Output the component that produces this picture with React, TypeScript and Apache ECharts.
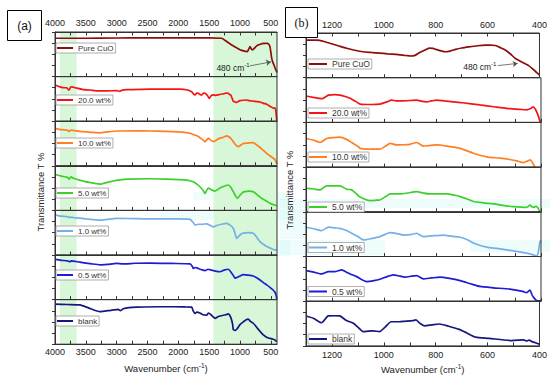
import React, { useEffect, useRef } from "react";
import * as echarts from "echarts";

const seriesNames = ["Pure CuO", "20.0 wt%", "10.0 wt%", "5.0 wt%", "1.0 wt%", "0.5 wt%", "blank"];
const seriesColors = ["#8e0c0c", "#f51414", "#ff7f22", "#3dcf2a", "#74b0e8", "#1c1cd2", "#16167e"];

// Panel (a): wavenumber 4000-400, each row normalised 0..100 (bottom..top of its strip)
const aPureCuO = [[4000,86],[3500,86],[3000,86.5],[2500,87],[2000,87],[1500,87],[1300,86],[1270,84],[1200,77],[1135,71],[1060,65],[1000,60],[930,57],[882,56],[860,61],[838,67],[815,62],[795,60],[770,63],[730,69],[680,72],[622,74.7],[557,74.7],[530,72],[514,67],[500,55],[487,42],[470,33],[449,26],[425,17],[405,11],[400,9]];
const a20 = [[4000,81],[3919,77],[3850,75],[3810,75],[3785,71],[3768,70],[3750,76],[3729,77],[3648,74],[3540,71],[3432,70],[3300,68],[3162,68],[3000,68.5],[2950,67],[2920,69],[2837,70.6],[2600,71.5],[2297,72],[2100,72],[1973,72],[1850,70],[1783,66],[1760,62],[1730,59],[1700,63],[1676,62.5],[1650,60],[1621,59],[1590,63],[1568,62.5],[1530,58],[1498,51],[1470,57],[1433,59],[1400,58],[1352,59],[1300,61],[1271,61],[1230,63],[1190,62.5],[1170,60],[1151,59],[1130,52],[1109,45],[1080,43],[1054,42],[1030,44],[1000,46],[950,47],[892,47.5],[850,46],[784,45],[730,44],[676,43],[620,40],[567,38],[520,34],[480,31],[460,29],[440,30],[425,28],[415,18],[405,3],[400,0]];
const a10 = [[4000,84],[3900,81],[3800,80],[3770,77],[3757,79],[3740,80],[3600,77],[3400,75],[3270,74],[3150,76],[3000,78],[2700,78.5],[2460,78],[2200,77],[2000,76],[1900,75],[1811,73],[1760,70],[1730,69],[1680,66],[1640,62],[1600,58],[1568,54],[1540,58],[1514,62],[1480,58],[1433,54],[1380,58],[1325,62],[1270,64],[1216,67],[1180,65],[1140,60],[1109,54],[1070,47],[1028,43],[990,46],[947,50],[870,51],[784,52],[740,48],[703,44],[640,37],[567,28],[510,22],[460,17],[430,13],[405,6],[400,4]];
const a5 = [[4000,81],[3900,77],[3800,74],[3770,70],[3757,72],[3740,75],[3700,72],[3600,68],[3450,63],[3270,59],[3150,63],[3050,66],[2973,68],[2800,70],[2460,71],[2200,70],[2000,69],[1865,68],[1800,66],[1757,64],[1700,59],[1649,53],[1600,45],[1568,38],[1540,45],[1514,50],[1460,46],[1406,43],[1360,47],[1325,50],[1260,54],[1190,57],[1150,52],[1109,42],[1070,32],[1044,27],[1000,34],[950,41],[920,42],[850,43],[784,42],[720,35],[660,28],[622,25],[560,20],[514,16],[460,13],[430,12],[405,10],[400,9]];
const a1 = [[4000,90],[3900,87],[3800,86],[3770,84],[3757,85],[3700,84],[3500,81],[3270,78],[3150,80],[3000,82],[2700,81.5],[2400,81],[2000,81],[1811,80],[1760,73],[1730,67],[1680,69],[1620,69],[1541,70],[1480,66],[1433,63],[1380,66],[1300,69],[1216,71],[1160,67],[1109,60],[1080,48],[1054,37],[1020,42],[980,47],[947,49],[870,50],[784,49],[730,40],[676,30],[620,24],[567,19],[500,15],[450,12],[405,11],[400,10]];
const a05 = [[4000,90],[3900,88],[3800,87],[3760,85],[3740,87],[3600,84],[3400,80],[3270,78],[3150,79],[3000,81],[2900,80],[2700,81.5],[2460,82],[2100,81],[1811,80],[1770,74],[1757,70],[1720,72],[1680,70],[1620,67],[1568,65],[1520,68],[1460,66],[1400,64],[1325,62.5],[1260,66],[1190,68],[1140,60],[1100,52],[1081,48],[1040,50],[1000,53],[947,56],[880,55],[784,53],[730,49],[676,44],[620,38],[567,33],[510,27],[460,21],[430,16],[415,10],[405,3],[400,1]];
const aBlank = [[4000,90],[3800,89],[3595,88],[3450,81],[3270,73],[3100,76],[2973,78],[2940,75],[2900,79],[2800,82],[2676,83],[2300,84],[2081,84],[1900,83.5],[1784,83],[1760,75],[1730,69],[1700,72],[1650,70],[1600,66],[1541,65],[1510,70],[1470,66],[1440,62],[1405,58],[1350,62],[1271,65],[1230,66],[1190,68],[1150,60],[1120,45],[1109,33],[1080,31],[1050,34],[1000,44],[947,50],[900,55],[866,56],[830,51],[784,47],[720,36],[670,28],[622,21],[560,15],[460,11],[430,9],[405,6],[400,5]];

// Panel (b): wavenumber 1300-400
const bPureCuO = [[1300,84],[1259,84],[1230,81],[1208,77],[1176,71.5],[1144,66],[1112,61.5],[1080,58],[1049,56.5],[1017,55],[985,53.5],[953,52],[921,50],[895,48.5],[880,50],[863,56],[845,61],[825,66],[810,65.5],[800,63.5],[780,60],[761,58],[742,60],[723,63.5],[700,66.5],[672,69],[640,71.5],[608,73],[590,73],[570,72],[550,67],[532,62],[512,53],[493,43],[474,37],[455,31],[442,27],[429,21],[417,15],[404,8],[400,6]];
const b20 = [[1300,59],[1272,56],[1240,53],[1214,61],[1190,62],[1170,61],[1150,58],[1131,54],[1110,47],[1093,41],[1050,40],[1017,41],[990,46],[972,50],[955,48],[940,48],[900,49],[876,50],[855,47],[838,46],[820,48],[800,50],[770,48],[736,46],[700,44],[634,39],[580,35],[532,31.5],[480,29],[455,28],[440,31],[429,35],[422,30],[417,24],[410,14],[404,2],[400,0]];
const b10 = [[1300,64],[1270,60],[1246,55],[1221,64],[1195,66],[1170,67],[1145,62],[1125,55],[1100,46],[1093,42],[1050,40],[1017,40],[995,47],[978,53],[953,49.5],[925,50],[902,51],[876,55],[851,47],[830,48],[800,49.5],[761,47],[710,42],[659,31],[608,23],[557,20],[520,17],[493,14],[468,10],[450,14],[442,16],[435,12],[423,0]];
const b5 = [[1300,53],[1270,51],[1246,49],[1221,58],[1190,58],[1170,58],[1144,50.5],[1125,49],[1110,42],[1093,33],[1055,25],[1030,26],[1017,26.5],[995,34],[978,40],[940,40],[915,41.5],[876,45],[850,42],[825,40],[761,40],[730,37],[710,34],[680,28],[659,23],[620,20],[583,17.7],[540,14],[506,11.6],[455,10],[442,15],[435,11],[429,10],[420,12],[412,9],[404,0.5],[400,0]];
const b1 = [[1300,65.5],[1270,62],[1240,58],[1214,65.5],[1190,64],[1170,63],[1145,58],[1125,52],[1100,44],[1080,37],[1050,40],[1017,44.5],[978,53.5],[950,51],[927,48],[900,49],[876,52],[851,44.5],[820,46],[774,48],[740,45],[710,43],[680,37],[659,30],[630,24],[608,21],[570,18],[532,15],[490,11],[455,7.4],[429,3.6],[417,1],[410,10],[404,33],[400,36]];
const b05 = [[1300,68.5],[1270,65],[1240,61],[1214,66],[1190,66],[1163,70],[1145,65],[1131,61],[1106,55],[1068,44],[1040,46],[1017,49],[990,55],[966,59],[940,56],[921,54],[895,56],[876,57],[851,50],[820,52],[787,54],[750,51],[710,46],[670,39],[634,33],[583,30],[519,27],[470,22],[455,19],[442,25],[435,15],[429,9],[417,1.5],[400,1]];
const bBlank = [[1300,67],[1272,62],[1240,52],[1214,67],[1190,67.5],[1170,67],[1144,56.6],[1119,51],[1100,42],[1080,32],[1060,33],[1042,33.5],[1017,32],[995,42],[972,54],[940,54],[921,55],[889,56.6],[876,58],[860,50],[844,45],[815,47],[787,49],[750,44],[710,37],[680,29],[646,19.5],[595,17],[506,12],[461,13.4],[449,11],[440,13],[429,9.6],[415,7],[404,4.5],[400,4]];

const panelAData = [aPureCuO, a20, a10, a5, a1, a05, aBlank];
const panelBData = [bPureCuO, b20, b10, b5, b1, b05, bBlank];

const aTickValues = [500,750,1000,1250,1500,1750,2000,2250,2500,2750,3000,3250,3500,3750,4000];
const aLabelValues = [500,1000,1500,2000,2500,3000,3500,4000];
const bTickValues = [400,500,600,700,800,900,1000,1100,1200,1300];
const bLabelValues = [400,600,800,1000,1200];
const greenBandsA = [[3920,3650],[1430,400]];

const FONT = "'Liberation Sans', Arial, Helvetica, sans-serif";
const AXIS_COLOR = "#333";
const plain = (v: number) => String(v);

function buildOption() {
  const panels = [
    {
      key: "a", data: panelAData, left: 55, width: 222, top: 32, rowH: 44.6, min: 400, max: 4000,
      ticks: aTickValues, labels: aLabelValues, legendLeft: 56,
      legendCenters: [48, 100, 143, 193, 231, 275, 321], iconW: 16, fontSize: 8,
      bands: greenBandsA, topMargin: 5, bottomMargin: 3, nameGap: 18,
      noteText: [1114, 19], arrow: [[838, 24], [497, 33]],
    },
    {
      key: "b", data: panelBData, left: 306, width: 235, top: 33, rowH: 44.7, min: 400, max: 1300,
      ticks: bTickValues, labels: bLabelValues, legendLeft: 308,
      legendCenters: [64, 113, 157, 207, 247.5, 291.5, 339], iconW: 18, fontSize: 8.5,
      bands: [], topMargin: 3.5, bottomMargin: 4.5, nameGap: 17,
      noteText: [630, 25], arrow: [[561, 27], [484, 32]],
    },
  ];

  const grid: any[] = [];
  const xAxis: any[] = [];
  const yAxis: any[] = [];
  const series: any[] = [];
  const legend: any[] = [];
  const topAxes: any[] = [];

  panels.forEach((p) => {
    const firstGrid = grid.length;
    for (let i = 0; i < 7; i++) {
      const g = grid.length;
      grid.push({
        left: p.left, top: p.top + i * p.rowH, width: p.width, height: p.rowH,
        show: true, borderColor: AXIS_COLOR, borderWidth: 1, z: 3,
      });
      const isBottom = i === 6;
      xAxis.push({
        type: "value", gridIndex: g, min: p.min, max: p.max, inverse: true, position: "bottom", z: 4,
        axisLine: { show: true, lineStyle: { color: AXIS_COLOR, width: 1 } },
        axisTick: { show: true, inside: true, length: 3.5, customValues: p.ticks, lineStyle: { color: AXIS_COLOR } },
        axisLabel: { show: isBottom, customValues: p.labels, formatter: plain, fontSize: 9, color: "#222", margin: p.bottomMargin, fontFamily: FONT },
        splitLine: { show: false },
        name: isBottom ? "Wavenumber (cm{sup|-1})" : "",
        nameLocation: "middle", nameGap: p.nameGap,
        nameTextStyle: {
          fontSize: 9.5, color: "#222", fontFamily: FONT, lineHeight: 13,
          rich: { sup: { fontSize: 6.5, lineHeight: 7, verticalAlign: "top", fontFamily: FONT, color: "#222" } },
        },
      });
      yAxis.push({
        type: "value", gridIndex: g, min: 0, max: 100, interval: 25, z: 4,
        axisLine: { show: true, lineStyle: { color: AXIS_COLOR, width: 1 } },
        axisTick: { show: true, inside: false, length: 3, lineStyle: { color: AXIS_COLOR } },
        axisLabel: { show: false }, splitLine: { show: false },
      });
      const sName = p.key + ":" + seriesNames[i];
      const s: any = {
        type: "line", name: sName, xAxisIndex: g, yAxisIndex: g, data: p.data[i],
        symbol: "none", smooth: 0.2, clip: true, z: 2,
        lineStyle: { width: 1.7, color: seriesColors[i] },
        itemStyle: { color: seriesColors[i] },
      };
      if (p.bands.length) {
        s.markArea = {
          silent: true, z: 1,
          itemStyle: { color: "#d8f6d8" },
          data: p.bands.map((b) => [{ xAxis: b[0] }, { xAxis: b[1] }]),
        };
      }
      if (i === 0) {
        s.markLine = {
          silent: true, symbol: ["none", "arrow"], symbolSize: 5, z: 5,
          lineStyle: { color: "#555", width: 0.8, type: "solid" },
          label: { show: false },
          data: [[{ coord: p.arrow[0] }, { coord: p.arrow[1] }]],
        };
        s.markPoint = {
          silent: true, z: 5,
          data: [{
            coord: p.noteText, symbol: "circle", symbolSize: 0,
            label: {
              show: true, position: "inside", formatter: "480 cm{sup|-1}",
              fontSize: 8.5, color: "#222", fontFamily: FONT, lineHeight: 12,
              rich: { sup: { fontSize: 6, lineHeight: 6, verticalAlign: "top", color: "#222", fontFamily: FONT } },
            },
          }],
        };
      }
      series.push(s);
      legend.push({
        data: [sName], left: p.legendLeft, top: p.legendCenters[i] - 5,
        orient: "horizontal", selectedMode: false, icon: "rect", itemWidth: p.iconW, itemHeight: 2, itemGap: 0,
        padding: [0, 2, 0, 1], borderColor: "#9a9a9a", borderWidth: 0.8, backgroundColor: "#ffffff",
        formatter: (n: string) => n.slice(2),
        textStyle: { fontSize: p.fontSize, color: "#333", fontFamily: FONT, lineHeight: 10 },
        z: 6,
      });
    }
    topAxes.push({
      type: "value", gridIndex: firstGrid, min: p.min, max: p.max, inverse: true, position: "top", z: 4,
      axisLine: { show: true, lineStyle: { color: AXIS_COLOR } },
      axisTick: { show: true, inside: true, length: 3.5, customValues: p.ticks, lineStyle: { color: AXIS_COLOR } },
      axisLabel: { show: true, customValues: p.labels, formatter: plain, fontSize: 9, color: "#222", margin: p.topMargin, fontFamily: FONT },
      splitLine: { show: false },
    });
  });
  xAxis.push(...topAxes);

  const cyanPatches = [
    [193, 192, 95, 8], [265, 199, 25, 11], [160, 210, 130, 10], [258, 240, 32, 16],
    [280, 199, 270, 9], [280, 209, 26, 30], [280, 240, 105, 15], [470, 240, 80, 12],
  ];

  const graphic: any[] = [
    ...cyanPatches.map((r) => ({
      type: "rect", z: 1, silent: true,
      shape: { x: r[0], y: r[1], width: r[2], height: r[3] },
      style: { fill: "rgba(200,246,246,0.3)" },
    })),
    {
      type: "rect", z: 10, shape: { x: 7.5, y: 10.5, width: 34, height: 30 },
      style: { fill: "#fff", stroke: "#000", lineWidth: 1 },
    },
    {
      type: "text", z: 11, x: 24.5, y: 25.5,
      style: { text: "(a)", fontSize: 12, fontFamily: FONT, fill: "#111", align: "center", verticalAlign: "middle" },
    },
    {
      type: "rect", z: 10, shape: { x: 285.5, y: 7.5, width: 32, height: 30 },
      style: { fill: "#fff", stroke: "#000", lineWidth: 1 },
    },
    {
      type: "text", z: 11, x: 301.5, y: 22.5,
      style: { text: "(b)", fontSize: 12, fontFamily: "'Liberation Serif', 'Times New Roman', serif", fill: "#111", align: "center", verticalAlign: "middle" },
    },
    {
      type: "text", z: 11, x: 40, y: 192, rotation: Math.PI / 2,
      style: { text: "Transmittance T %", fontSize: 9.5, fontFamily: FONT, fill: "#222", align: "center", verticalAlign: "middle" },
    },
    {
      type: "text", z: 11, x: 289, y: 190, rotation: Math.PI / 2,
      style: { text: "Transmittance T %", fontSize: 9.5, fontFamily: FONT, fill: "#222", align: "center", verticalAlign: "middle" },
    },
  ];

  return {
    animation: false,
    backgroundColor: "#ffffff",
    textStyle: { fontFamily: FONT },
    grid, xAxis, yAxis, series, legend, graphic,
  };
}

export default function App() {
  const ref = useRef<HTMLDivElement>(null);
  useEffect(() => {
    if (!ref.current) return;
    const chart = echarts.init(ref.current, undefined, { renderer: "svg" });
    chart.setOption(buildOption() as any);
    return () => chart.dispose();
  }, []);
  return (
    <div
      ref={ref}
      style={{ position: "fixed", left: 0, top: 0, width: 550, height: 381, background: "#fff" }}
    />
  );
}
